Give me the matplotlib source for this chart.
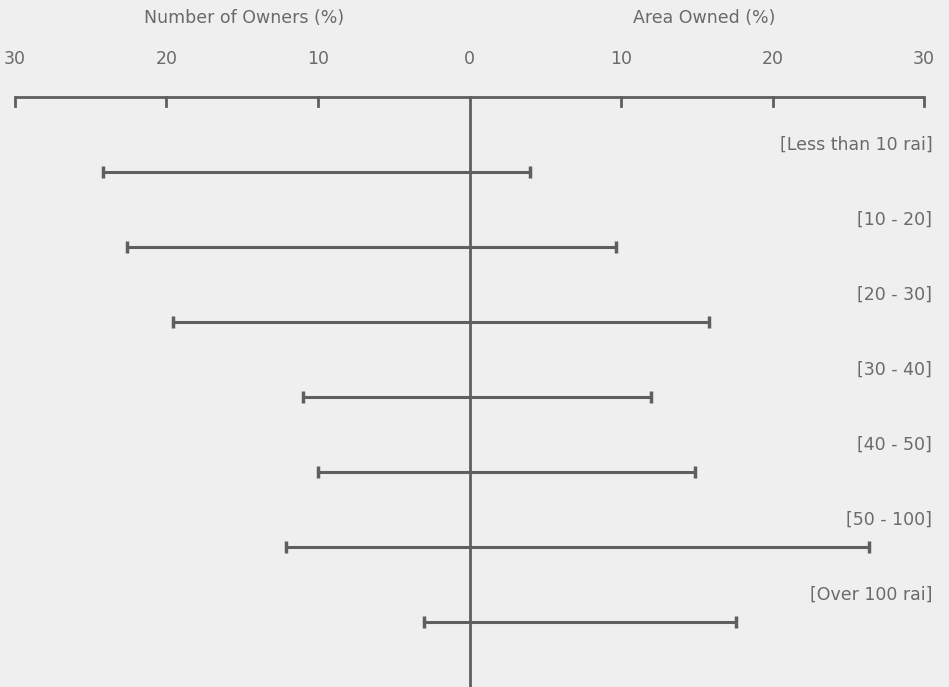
import numpy as np
import matplotlib.pyplot as plt

# datos
categorias = ["[Less than 10 rai]", "[10 - 20]", "[20 - 30]", "[30 - 40]",
              "[40 - 50]", "[50 - 100]", "[Over 100 rai]"]
propietarios = [24.2, 22.6, 19.6, 11.0, 10.0, 12.1, 3.0]   # Number of Owners (%)
area = [4.0, 9.7, 15.8, 12.0, 14.9, 26.4, 17.6]            # Area Owned (%)
ticks = [-30, -20, -10, 0, 10, 20, 30]

color_linea = "#5f5f5f"
color_texto = "#6a6a6a"
plt.rcParams['font.family'] = ['DejaVu Sans']

fig = plt.figure(figsize=(9.49, 6.87), dpi=100)
fig.patch.set_facecolor("#efefef")
ax = fig.add_axes([0, 0, 1, 1])
ax.set_facecolor("#efefef")
ax.set_xlim(-30.99, 31.65)
ax.set_ylim(6.867, -2.293)
ax.axis("off")

y = np.arange(len(categorias))

# eje superior
ax.plot([ticks[0], ticks[-1]], [-1, -1], color=color_linea, lw=2.0, solid_capstyle="butt")
for t in ticks:
    if t != 0:
        ax.plot([t, t], [-1, -0.88], color=color_linea, lw=2.0)
    ax.text(t, -1.5, str(abs(t)), ha="center", va="center", fontsize=12.5, color=color_texto)

ax.text(-14.85, -2.05, "Number of Owners (%)", ha="center", va="center", fontsize=12.5, color=color_texto)
ax.text(15.5, -2.05, "Area Owned (%)", ha="center", va="center", fontsize=12.5, color=color_texto)

# linea central
ax.plot([0, 0], [-1, 6.867], color=color_linea, lw=2.0)

# barras
izq = -np.array(propietarios)
der = np.array(area)
ax.hlines(y, izq, der, color=color_linea, lw=2.2)
ax.plot(izq, y, "|", color=color_linea, ms=9, mew=2.5)
ax.plot(der, y, "|", color=color_linea, ms=9, mew=2.5)

for yi, cat in zip(y, categorias):
    ax.text(30.55, yi - 0.36, cat, ha="right", va="center", fontsize=12.5, color=color_texto)

fig.savefig("out.png", dpi=100, facecolor=fig.get_facecolor())
